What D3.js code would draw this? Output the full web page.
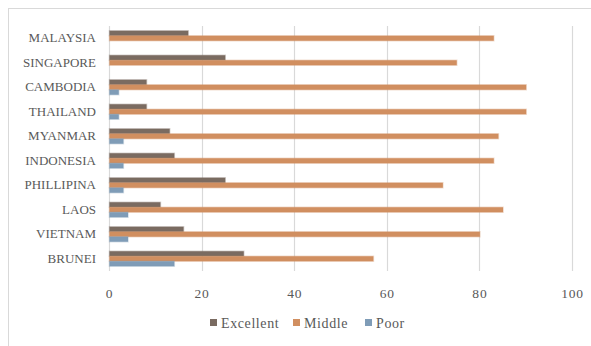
<!DOCTYPE html>
<html>
<head>
<meta charset="utf-8">
<script src="https://cdn.jsdelivr.net/npm/d3@7"></script>
<style>
  html, body { margin: 0; padding: 0; background: #fff; }
  svg { display: block; }
  svg text { font-family: "Liberation Serif", "DejaVu Serif", serif; }
</style>
</head>
<body>
<svg id="chart" width="591" height="346"></svg>
<script>
// Countries listed top to bottom
const categories = ["MALAYSIA", "SINGAPORE", "CAMBODIA", "THAILAND", "MYANMAR",
                    "INDONESIA", "PHILLIPINA", "LAOS", "VIETNAM", "BRUNEI"];
const seriesNames = ["Excellent", "Middle", "Poor"];
const excellent = [17, 25, 8, 8, 13, 14, 25, 11, 16, 29];
const middle    = [83, 75, 90, 90, 84, 83, 72, 85, 80, 57];
const poor      = [0, 0, 2, 2, 3, 3, 3, 4, 4, 14];
const xTicks = [0, 20, 40, 60, 80, 100];
const colors = ["#7a6b61", "#d18f60", "#7f9cb7"];

const values = [excellent, middle, poor];
const rows = categories.map((c, i) => ({
  name: c,
  vals: seriesNames.map((s, k) => ({ series: s, k, v: values[k][i] }))
}));

const svg = d3.select("#chart");
const font = '"Liberation Serif", "DejaVu Serif", serif';
const textColor = "#595959";

// outer frame
svg.append("rect")
  .attr("x", 8.5).attr("y", 8.5)
  .attr("width", 600).attr("height", 400)
  .attr("fill", "none").attr("stroke", "#d9d9d9").attr("stroke-width", 1);

const plot = { left: 109, right: 572, top: 26, bottom: 271 };

const x = d3.scaleLinear().domain([0, 100]).range([plot.left, plot.right]);
const y = d3.scaleBand().domain(categories).range([plot.top, plot.bottom])
  .paddingInner(0.388).paddingOuter(0.194);
const ySub = d3.scaleBand().domain(seriesNames).range([0, y.bandwidth()]);

// vertical gridlines
svg.append("g")
  .selectAll("line")
  .data(xTicks)
  .join("line")
  .attr("x1", d => Math.round(x(d)) + 0.5)
  .attr("x2", d => Math.round(x(d)) + 0.5)
  .attr("y1", plot.top)
  .attr("y2", plot.bottom)
  .attr("stroke", "#d9d9d9")
  .attr("stroke-width", 1.2);

// bars
const groups = svg.append("g")
  .selectAll("g")
  .data(rows)
  .join("g")
  .attr("transform", d => `translate(0,${y(d.name)})`);

groups.selectAll("rect")
  .data(d => d.vals.filter(e => e.v > 0))
  .join("rect")
  .attr("x", x(0) + 0.5)
  .attr("y", d => ySub(d.series))
  .attr("width", d => x(d.v) - x(0))
  .attr("height", ySub.bandwidth())
  .attr("fill", d => colors[d.k])
  .attr("stroke", d => colors[d.k])
  .attr("stroke-opacity", 0.3)
  .attr("stroke-width", 1.5);

// category axis
const yAxis = svg.append("g")
  .attr("transform", `translate(${plot.left},0)`)
  .call(d3.axisLeft(y).tickSize(0).tickPadding(13));
yAxis.attr("font-family", null);
yAxis.select(".domain").remove();
yAxis.selectAll("text")
  .style("font-family", font)
  .style("font-size", "13px")
  .attr("fill", textColor);

// value axis
const xAxis = svg.append("g")
  .attr("transform", `translate(0,${plot.bottom})`)
  .call(d3.axisBottom(x).tickValues(xTicks).tickSize(0).tickPadding(17));
xAxis.attr("font-family", null);
xAxis.select(".domain").remove();
xAxis.selectAll("text")
  .style("font-family", font)
  .style("font-size", "13.5px")
  .style("letter-spacing", "0.8px")
  .attr("fill", textColor);

// legend
const legendItems = [
  { name: "Excellent", x: 210 },
  { name: "Middle", x: 293 },
  { name: "Poor", x: 365 }
];
const legend = svg.append("g");
legendItems.forEach((item, k) => {
  legend.append("rect")
    .attr("x", item.x).attr("y", 319)
    .attr("width", 7).attr("height", 7)
    .attr("fill", colors[k]);
  legend.append("text")
    .attr("x", item.x + 11).attr("y", 327.5)
    .style("font-family", font)
    .style("font-size", "14px")
    .style("letter-spacing", "0.6px")
    .attr("fill", textColor)
    .text(item.name);
});
</script>
</body>
</html>
